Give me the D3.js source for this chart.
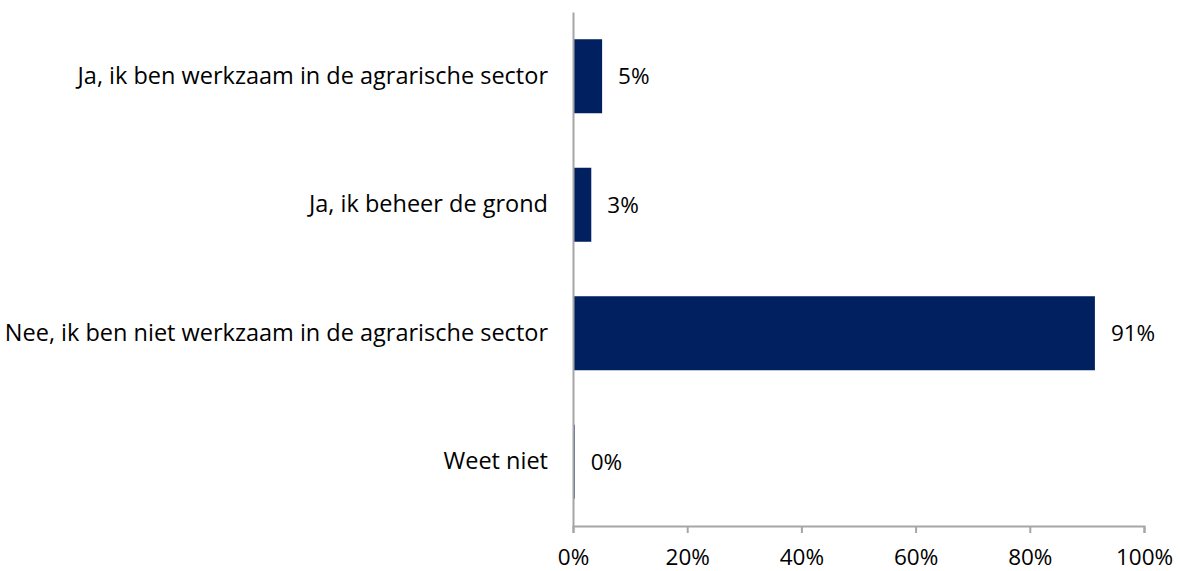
<!DOCTYPE html>
<html>
<head>
<meta charset="utf-8">
<script src="https://cdn.jsdelivr.net/npm/d3@7"></script>
<style>
  body { margin: 0; background: #fff; }
  text { font-family: "Open Sans", "Noto Sans", sans-serif; fill: #000; }
</style>
</head>
<body>
<svg id="chart" width="1180" height="571"></svg>
<script>
const categories = [
    "Ja, ik ben werkzaam in de agrarische sector",
    "Ja, ik beheer de grond",
    "Nee, ik ben niet werkzaam in de agrarische sector",
    "Weet niet"
];
const values = [5.1, 3.2, 91.4, 0.3];
const valueLabels = ["5%", "3%", "91%", "0%"];
const ticks = [0, 20, 40, 60, 80, 100];

const width = 1180;
const height = 571;
const margin = {top: 12, right: 36, bottom: 45, left: 573};
const fontSize = 22.5;
const catFontSize = 23.5;

const svg = d3.select("#chart");

const x = d3.scaleLinear()
    .domain([0, 100])
    .range([margin.left, width - margin.right]);

const y = d3.scaleBand()
    .domain(categories)
    .range([margin.top, height - margin.bottom])
    .paddingInner(0.424)
    .paddingOuter(0.212);

const data = categories.map((c, i) => ({cat: c, value: values[i], label: valueLabels[i]}));

svg.selectAll("rect.bar")
    .data(data)
    .enter()
    .append("rect")
    .attr("class", "bar")
    .attr("x", x(0))
    .attr("y", d => y(d.cat))
    .attr("width", d => Math.max(1.5, x(d.value) - x(0)))
    .attr("height", y.bandwidth())
    .attr("fill", "#002060");

// x axis
const xAxis = svg.append("g")
    .attr("transform", `translate(0,${height - margin.bottom})`)
    .call(d3.axisBottom(x).tickValues(ticks).tickSize(7).tickFormat(d => d + "%"));
xAxis.select(".domain").attr("stroke", "#a6a6a6").attr("stroke-width", 2);
xAxis.selectAll(".tick line").attr("stroke", "#a6a6a6").attr("stroke-width", 2);
xAxis.selectAll(".tick text")
    .attr("y", 31)
    .attr("dy", "0.35em")
    .attr("font-size", fontSize)
    .style("font-family", '"Open Sans", sans-serif');

// y axis
const yAxis = svg.append("g")
    .attr("transform", `translate(${x(0)},0)`)
    .call(d3.axisLeft(y).tickSize(0).tickPadding(25));
yAxis.select(".domain").attr("stroke", "#a6a6a6").attr("stroke-width", 2);
yAxis.selectAll(".tick text")
    .attr("font-size", catFontSize)
    .style("font-family", '"Open Sans", sans-serif');

// value labels
svg.selectAll("text.val")
    .data(data)
    .enter()
    .append("text")
    .attr("class", "val")
    .attr("x", d => x(d.value) + 16)
    .attr("y", d => y(d.cat) + y.bandwidth() / 2)
    .attr("dy", "0.35em")
    .attr("font-size", fontSize)
    .text(d => d.label);
</script>
</body>
</html>
